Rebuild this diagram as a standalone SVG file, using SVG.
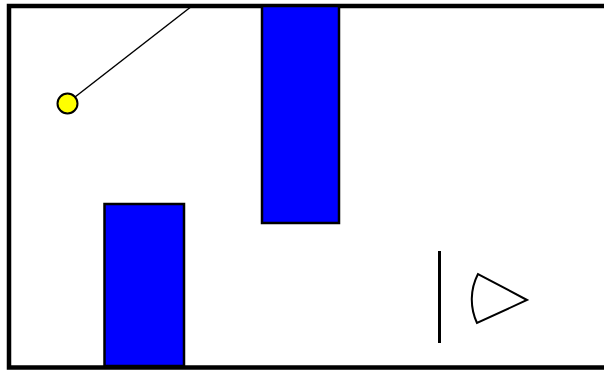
<svg xmlns="http://www.w3.org/2000/svg" width="604" height="372" viewBox="0 0 604 372">
<style>
.wall{fill:#0000ff;stroke:#000;stroke-width:2.5}
.frame{fill:#fff;stroke:#000;stroke-width:4.5}
</style>
<rect class="frame" x="9" y="6" width="620" height="361.5"/>
<g id="wall-top"><rect class="wall" x="262" y="6" width="77" height="217"/></g>
<g id="wall-bottom"><rect class="wall" x="104.5" y="204" width="79.5" height="162"/></g>
<g id="connectors"><line x1="75" y1="97" x2="192" y2="6" stroke="#000" stroke-width="1.5"/></g>
<g id="ball"><circle cx="67.5" cy="103.5" r="10" fill="#ffff00" stroke="#000" stroke-width="2"/></g>
<g id="mirror"><line x1="439.5" y1="251" x2="439.5" y2="343" stroke="#000" stroke-width="3"/></g>
<g id="sector"><path d="M527,300 L478,274 A55.5,55.5 0 0 0 477,323 Z" fill="#fff" stroke="#000" stroke-width="2"/></g>
</svg>
